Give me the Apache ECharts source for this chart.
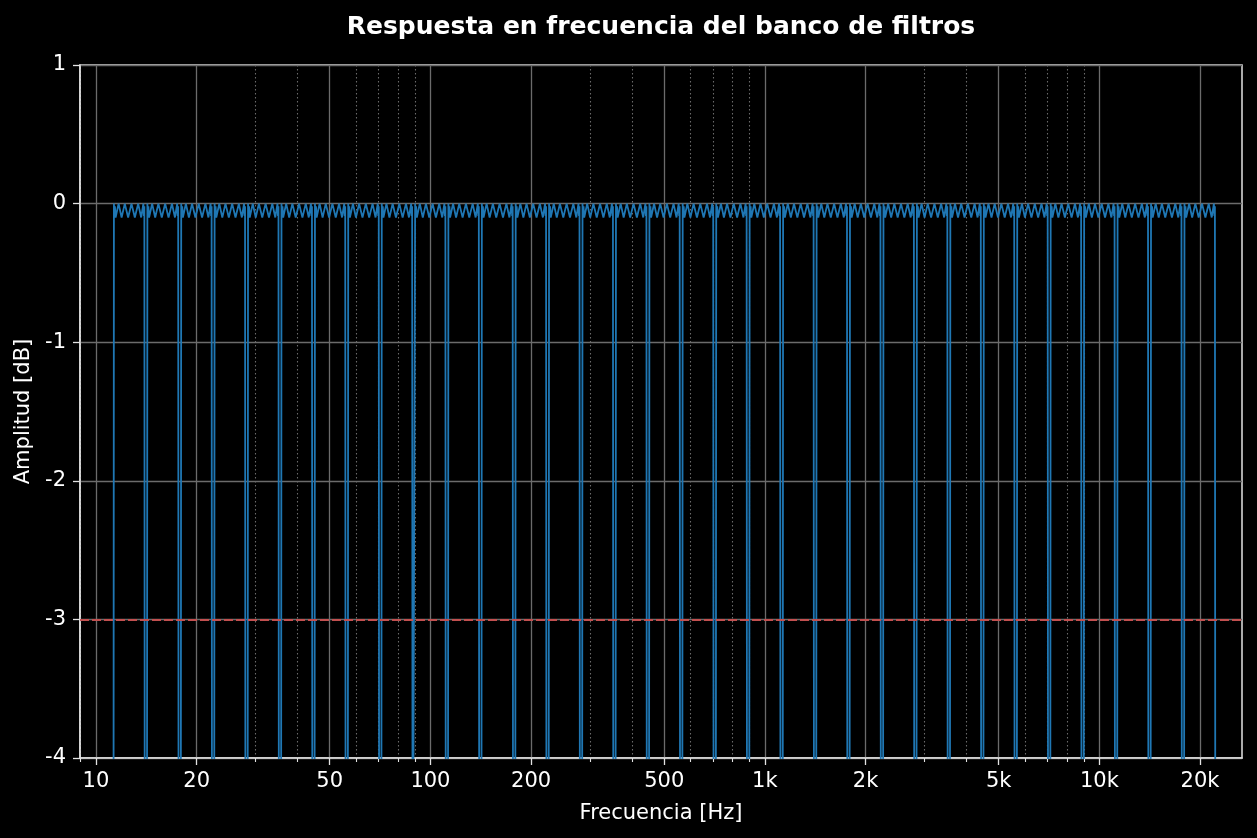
<!DOCTYPE html>
<html>
<head>
<meta charset="utf-8">
<script src="https://cdn.jsdelivr.net/npm/echarts@6/dist/echarts.min.js"></script>
<style>
    html, body { margin: 0; padding: 0; background: #000; }
    #main { width: 1257px; height: 838px; }
</style>
</head>
<body>
<div id="main"></div>
<script>
// band edges (Hz) where the response dips
var bandEdges = [11.2, 14.1, 17.8, 22.4, 28.2, 35.5, 44.7, 56.2, 70.8, 89.1,
    112, 141, 178, 224, 282, 355, 447, 562, 708, 891,
    1122, 1413, 1778, 2239, 2818, 3548, 4467, 5623, 7079, 8913,
    11220, 14125, 17783, 22387]

// ripple shape inside one band (position 0..1 across the band, dB)
var ripplePos = [0.03, 0.045, 0.06, 0.075, 0.095, 0.185, 0.275, 0.37, 0.47, 0.57, 0.67, 0.77, 0.86, 0.925, 0.94, 0.955, 0.97]
var rippleDb = [-6, 0, -0.09, -0.02, -0.1, 0, -0.1, 0, -0.1, 0, -0.1, 0, -0.1, 0, -0.09, -0.02, -6]

var majorTicks = [10, 20, 50, 100, 200, 500, 1000, 2000, 5000, 10000, 20000]
var majorLabels = ['10', '20', '50', '100', '200', '500', '1k', '2k', '5k', '10k', '20k']
var minorTicks = [9, 30, 40, 60, 70, 80, 90, 300, 400, 600, 700, 800, 900,
    3000, 4000, 6000, 7000, 8000, 9000]
var cutoffDb = -3

var xMin = 8.96, xMax = 26700
var lg = Math.log10

// build the series in log10(Hz) so the axis is logarithmic
var curve = []
for (var i = 0; i < bandEdges.length - 1; i++) {
    var a = lg(bandEdges[i]), b = lg(bandEdges[i + 1])
    for (var j = 0; j < ripplePos.length; j++) {
        curve.push([a + ripplePos[j] * (b - a), rippleDb[j]])
    }
}

var font = 'DejaVu Sans'
var gridCol = '#6b6b6b'
var spineCol = '#e2e2e2'

var chart = echarts.init(document.getElementById('main'))
var option = {
    backgroundColor: '#000',
    animation: false,
    title: {
        text: 'Respuesta en frecuencia del banco de filtros',
        left: 656, top: 10, textAlign: 'center',
        textStyle: { color: '#fff', fontFamily: font, fontSize: 25, fontWeight: 'bold' }
    },
    grid: {
        left: 80, right: 15, top: 65, bottom: 80,
        show: true, borderColor: spineCol, borderWidth: 1.5, backgroundColor: '#000'
    },
    xAxis: [
        {
            type: 'value', min: lg(xMin), max: lg(xMax), position: 'bottom',
            name: 'Frecuencia [Hz]', nameLocation: 'middle', nameGap: 45,
            nameTextStyle: { color: '#fff', fontFamily: font, fontSize: 21 },
            axisLine: { onZero: false, lineStyle: { color: spineCol, width: 1.5 } },
            axisTick: { customValues: majorTicks.map(lg), length: 7, lineStyle: { color: spineCol, width: 1.3 } },
            axisLabel: {
                customValues: majorTicks.map(lg), margin: 13,
                color: '#fff', fontFamily: font, fontSize: 21,
                formatter: function (v) {
                    var f = Math.pow(10, v)
                    for (var k = 0; k < majorTicks.length; k++) {
                        if (Math.abs(majorTicks[k] - f) / majorTicks[k] < 0.01) return majorLabels[k]
                    }
                    return ''
                }
            },
            splitLine: { show: true, lineStyle: { color: gridCol, width: 1.3 } }
        },
        {
            type: 'value', min: lg(xMin), max: lg(xMax), position: 'bottom',
            axisLine: { show: false, onZero: false },
            axisTick: { customValues: minorTicks.map(lg), length: 4, lineStyle: { color: spineCol, width: 1.1 } },
            axisLabel: { show: false },
            splitLine: { show: true, lineStyle: { color: gridCol, width: 1.1, type: [1.5, 2.5] } }
        }
    ],
    yAxis: {
        type: 'value', min: -4, max: 1, interval: 1,
        name: 'Amplitud [dB]', nameLocation: 'middle', nameGap: 41,
        nameTextStyle: { color: '#fff', fontFamily: font, fontSize: 21 },
        axisLine: { show: true, lineStyle: { color: spineCol, width: 1.5 } },
        axisTick: { show: true, length: 7, lineStyle: { color: spineCol, width: 1.3 } },
        axisLabel: { color: '#fff', fontFamily: font, fontSize: 21, margin: 14, padding: [5, 0, 0, 0] },
        splitLine: { show: true, lineStyle: { color: gridCol, width: 1.3 } }
    },
    series: [
        {
            // -3 dB reference, drawn under the response
            type: 'line', data: [], z: 1, silent: true,
            markLine: {
                symbol: 'none', silent: true, label: { show: false },
                lineStyle: { color: '#c25050', width: 2, type: [9, 3] },
                data: [{ yAxis: cutoffDb }]
            }
        },
        {
            type: 'line', data: curve, z: 3,
            showSymbol: false, clip: true,
            lineStyle: { color: '#1f77b4', width: 1.8 }
        }
    ]
}
chart.setOption(option)
</script>
</body>
</html>
